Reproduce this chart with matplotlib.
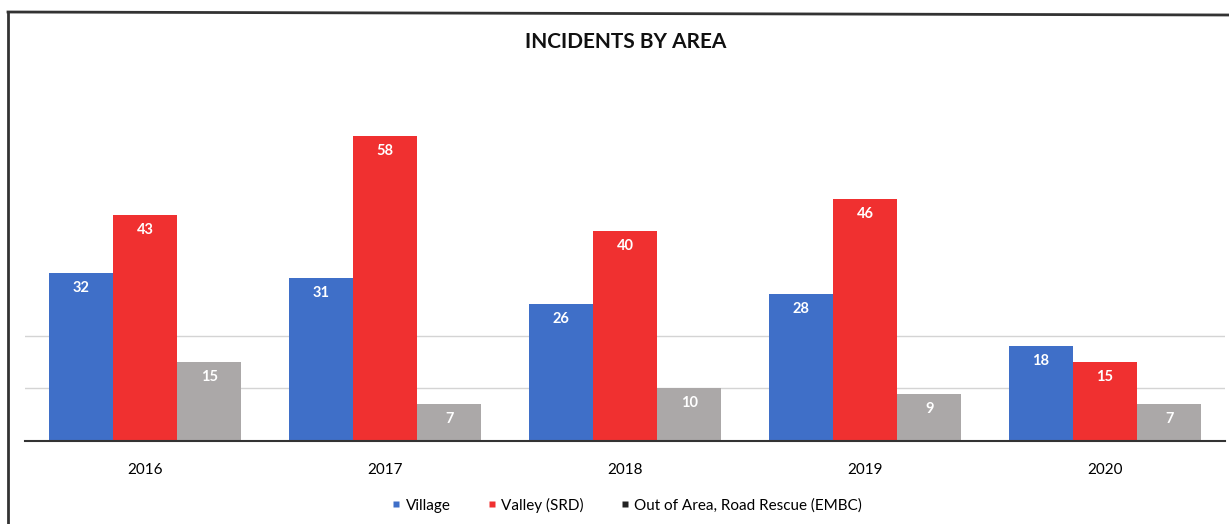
import numpy as np
import matplotlib.pyplot as plt
from matplotlib.lines import Line2D

years = ['2016', '2017', '2018', '2019', '2020']
village = [32, 31, 26, 28, 18]
valley = [43, 58, 40, 46, 15]
out_of_area = [15, 7, 10, 9, 7]

series = [('Village', village, '#3F6FC8'),
          ('Valley (SRD)', valley, '#F03030'),
          ('Out of Area, Road Rescue (EMBC)', out_of_area, '#ABA8A8')]

plt.rcParams['font.family'] = ['Lato', 'DejaVu Sans']

fig = plt.figure(figsize=(12.29, 5.24), dpi=100)
ax = fig.add_axes([25 / 1229, 1 - 441 / 524, 1200 / 1229, 368 / 524])

x = np.arange(len(years))
w = 0.268
for i, (name, vals, col) in enumerate(series):
    pos = x + (i - 1) * w
    bars = ax.bar(pos, vals, width=w, color=col, edgecolor='none', zorder=2)
    for b, v in zip(bars, vals):
        ax.text(b.get_x() + b.get_width() / 2, v - 1.5, str(v), ha='center', va='top',
                color='white', fontsize=10.5, fontweight='bold', zorder=3)

ax.set_xlim(-0.5, 4.5)
ax.set_ylim(0, 70)
ax.set_yticks([10, 20])
ax.yaxis.grid(True, color='#d4d4d4', linewidth=1, zorder=0)
ax.tick_params(axis='y', left=False, labelleft=False)
ax.set_xticks(x)
ax.set_xticklabels(years, fontsize=11)
ax.tick_params(axis='x', length=0, pad=16)
for s in ['top', 'right', 'left']:
    ax.spines[s].set_visible(False)
ax.spines['bottom'].set_color('#333333')
ax.spines['bottom'].set_linewidth(1.5)

fig.text(626 / 1229, 1 - 42 / 524, 'INCIDENTS BY AREA', ha='center', va='center',
         fontsize=15, fontweight='bold', color='#111111')

handles = [Line2D([], [], marker='s', linestyle='none', markersize=5,
                  markerfacecolor=c, markeredgecolor='none', label=n)
           for n, _, c in series]
handles[2].set_markerfacecolor('#222222')
fig.legend(handles=handles, loc='center', bbox_to_anchor=(626 / 1229, 1 - 505 / 524),
           ncol=3, frameon=False, fontsize=11, handlelength=0.8, handletextpad=0.2,
           columnspacing=2.3)

# frame round the whole chart
fig.add_artist(Line2D([8 / 1229, 8 / 1229], [0, 1 - 12 / 524], transform=fig.transFigure,
                      color='#333333', linewidth=2))
fig.add_artist(Line2D([8 / 1229, 1], [1 - 12 / 524, 1 - 15 / 524], transform=fig.transFigure,
                      color='#333333', linewidth=2))

fig.savefig('out.png', dpi=100)
